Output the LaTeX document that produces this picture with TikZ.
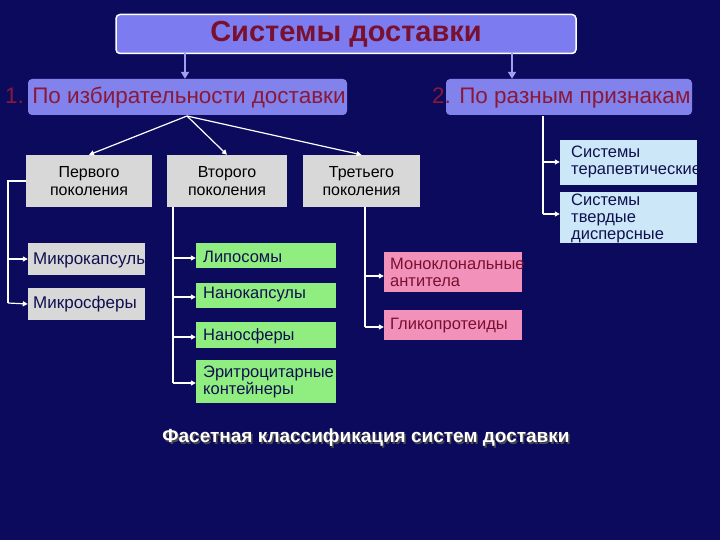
\documentclass[tikz,border=0pt]{standalone}
\usepackage{fontspec}
\setmainfont{Liberation Sans}
\usetikzlibrary{arrows.meta}
\definecolor{bg}{HTML}{0C0A5C}
\definecolor{titlef}{HTML}{7C7CF0}
\definecolor{lvf}{HTML}{8282EC}
\definecolor{grayf}{HTML}{D8D8D8}
\definecolor{bluef}{HTML}{CCE8F8}
\definecolor{greenf}{HTML}{90EE80}
\definecolor{pinkf}{HTML}{F292BA}
\definecolor{dred}{HTML}{7A1030}
\definecolor{lred}{HTML}{8A1838}
\definecolor{navy}{HTML}{101050}
\definecolor{arrc}{HTML}{A0A0F0}
\begin{document}
\begin{tikzpicture}[x=1pt,y=-1pt,
  wire/.style={white,line width=1.2pt},
  warr/.style={white,line width=1.2pt,-{Triangle[length=5pt,width=5pt]}},
  barr/.style={arrc,line width=2pt,-{Triangle[length=7pt,width=8pt]}},
  boxg/.style={fill=grayf,draw=none},
  txt/.style={inner sep=0pt,anchor=west,align=left,font=\fontsize{16.5}{17}\selectfont}]
\fill[bg] (0,0) rectangle (720,540);
\useasboundingbox (0,0) rectangle (720,540);
% title
\node[draw=white,line width=1.5pt,fill=titlef,rounded corners=4pt,minimum width=460pt,minimum height=39pt,
 font=\bfseries\fontsize{29}{30}\selectfont,text=dred] (title) at (346,34) {Системы доставки};
% level 1 boxes
\node[fill=lvf,rounded corners=4pt,minimum width=319pt,minimum height=36pt] (b1) at (187.5,97) {};
\node[fill=lvf,rounded corners=4pt,minimum width=246pt,minimum height=36pt] (b2) at (569,97) {};
\node[txt,text=lred,font=\fontsize{22.5}{24}\selectfont] (t1) at (5,98) {1. По избирательности доставки};
\node[txt,text=lred,font=\fontsize{22.5}{24}\selectfont] (t2) at (432,98) {2. По разным признакам};
\coordinate (a1) at (185,53); \coordinate (a2) at (512,53);
\draw[barr] (a1) -- (b1.north -| a1);
\draw[barr] (a2) -- (b2.north -| a2);
% generations
\node[boxg,minimum width=126pt,minimum height=52pt,align=center,font=\fontsize{16}{18}\selectfont] (g1) at (89,181) {Первого\\поколения};
\node[boxg,minimum width=120pt,minimum height=52pt,align=center,font=\fontsize{16}{18}\selectfont] (g2) at (227,181) {Второго\\поколения};
\node[boxg,minimum width=117pt,minimum height=52pt,align=center,font=\fontsize{16}{18}\selectfont] (g3) at (361.5,181) {Третьего\\поколения};
\coordinate (s1) at (187,116);
\draw[warr] (s1) -- (g1.north);
\draw[warr] (s1) -- (g2.north);
\draw[warr] (s1) -- (g3.north);
% right branch
\node[fill=bluef,minimum width=137pt,minimum height=45pt] (r1) at (628.5,162.5) {};
\node[fill=bluef,minimum width=137pt,minimum height=51pt] (r2) at (628.5,217.5) {};
\node[txt,text=navy] (rt1) at (571,162) {Системы\\терапевтические};
\node[txt,text=navy] (rt2) at (571,218) {Системы\\твердые\\дисперсные};
\coordinate (v2) at (543,116); \coordinate (v2e) at (543,214);
\draw[wire] (v2) -- (v2e);
\draw[warr] (543,162) -- (r1.west |- 543,162);
\draw[warr] (v2e) -- (r2.west |- v2e);
% first generation
\node[boxg,minimum width=117pt,minimum height=32pt] (m1) at (86.5,259) {};
\node[boxg,minimum width=117pt,minimum height=32pt] (m2) at (86.5,304) {};
\begin{scope}
\clip (28,243) rectangle (145,275);
\node[txt,text=navy,font=\fontsize{17}{18}\selectfont] (mt1) at (33,260) {Микрокапсулы};
\end{scope}
\node[txt,text=navy,font=\fontsize{17}{18}\selectfont] (mt2) at (33,304) {Микросферы};
\coordinate (c1) at (8,303);
\draw[wire] (g1.west |- 0,181) -| (c1);
\draw[warr] (8,259) -- (m1.west);
\draw[warr] (c1) -- (m2.west);
% second generation
\node[fill=greenf,minimum width=140pt,minimum height=25pt] (n1) at (266,255.5) {};
\node[fill=greenf,minimum width=140pt,minimum height=25pt] (n2) at (266,295.5) {};
\node[fill=greenf,minimum width=140pt,minimum height=26pt] (n3) at (266,335) {};
\node[fill=greenf,minimum width=140pt,minimum height=43pt] (n4) at (266,381.5) {};
\node[txt,text=navy] (nt1) at (203,257) {Липосомы};
\node[txt,text=navy] (nt2) at (203,295) {Нанокапсулы};
\node[txt,text=navy] (nt3) at (203,336) {Наносферы};
\node[txt,text=navy] (nt4) at (203,382) {Эритроцитарные\\контейнеры};
\coordinate (c2) at (173,383);
\draw[wire] (173,207) -- (c2);
\draw[warr] (173,258) -- (n1.west |- 173,258);
\draw[warr] (173,297) -- (n2.west |- 173,297);
\draw[warr] (173,337) -- (n3.west |- 173,337);
\draw[warr] (c2) -- (n4.west |- c2);
% third generation
\node[fill=pinkf,minimum width=138pt,minimum height=40pt] (p1) at (453,272) {};
\node[fill=pinkf,minimum width=138pt,minimum height=30pt] (p2) at (453,325) {};
\node[txt,text=dred] (pt1) at (390,272) {Моноклональные\\антитела};
\node[txt,text=dred] (pt2) at (390,326) {Гликопротеиды};
\coordinate (c3) at (365,327);
\draw[wire] (365,207) -- (c3);
\draw[warr] (365,276) -- (p1.west |- 365,276);
\draw[warr] (c3) -- (p2.west |- c3);
% caption
\node[text=black!70,font=\bfseries\fontsize{19}{20}\selectfont] at (367.5,439.5) {Фасетная классификация систем доставки};
\node[text=white,font=\bfseries\fontsize{19}{20}\selectfont] (cap) at (366,438) {Фасетная классификация систем доставки};
\end{tikzpicture}
\end{document}
